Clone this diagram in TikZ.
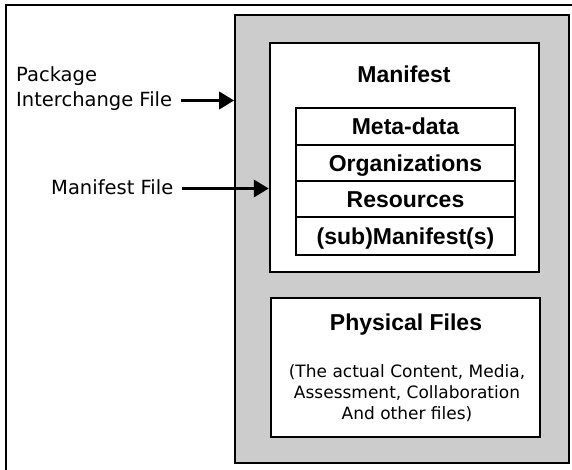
\documentclass[tikz,border=0pt]{standalone}
\usepackage{fontspec}
\setmainfont{Liberation Sans}
\newfontfamily\labelfont{DejaVu Sans}
\usetikzlibrary{arrows.meta}

\begin{document}
\begin{tikzpicture}[x=1pt,y=-1pt,
  frame/.style={line width=2pt},
  shaded/.style={draw, line width=1.6pt, fill=black!20, inner sep=0pt,
    minimum width=334pt, minimum height=448pt},
  whitebox/.style={draw, line width=2.4pt, fill=white, inner sep=0pt,
    minimum width=269pt},
  row/.style={draw, line width=2pt, fill=white, inner sep=0pt,
    minimum width=219pt, text height=16.5pt, text depth=0pt,
    font=\bfseries\fontsize{23}{26}\selectfont},
  title/.style={inner sep=0pt, text height=16.5pt, text depth=0pt,
    font=\bfseries\fontsize{23}{26}\selectfont},
  side/.style={inner sep=0pt, anchor=base west, text height=13pt, text depth=0pt,
    font=\labelfont\fontsize{19.5}{25}\selectfont},
  note/.style={inner sep=0pt, align=center,
    font=\labelfont\fontsize{17}{21}\selectfont},
  pointer/.style={line width=3.5pt, shorten <=9pt,
    -{Triangle[length=15pt,width=17pt]}}
]
\useasboundingbox (0,0) rectangle (572,470);

% outer page frame (open to the right and bottom)
\draw[frame] (6,470) -- (6,5) -- (572,5);

% shaded package container
\node[shaded] (shade) at (402,239) {};

% manifest box with its table of sections
\node[whitebox, minimum height=229pt] (manifest) at (404.5,157.5) {};
\node[title] (mtitle) at (404,74.5) {Manifest};
\node[row, minimum height=37pt] (meta) at (405.5,126.5) {Meta-data};
\node[row, minimum height=36pt] (orgs) at (405.5,163) {Organizations};
\node[row, minimum height=36pt] (res)  at (405.5,199) {Resources};
\node[row, minimum height=38pt] (sub)  at (405.5,236) {(sub)Manifest(s)};

% physical files box; the note's base anchor is its last line
\node[whitebox, minimum height=139pt] (phys) at (405.5,367.5) {};
\node[title] (ptitle) at (406,322.5) {Physical Files};
\node[note, anchor=base] (pnote) at (407,419)
  {(The actual Content, Media,\\Assessment, Collaboration\\And other files)};

% side labels and pointers
\node[side] (pkg) at (16,82) {Package};
\node[side] (ifile) at (16,107) {Interchange File};
\node[side] (mfile) at (51,195) {Manifest File};
\draw[pointer] (ifile.east) -- (ifile.east -| shade.west);
\draw[pointer] (mfile.east) -- (mfile.east -| manifest.west);
\end{tikzpicture}
\end{document}
